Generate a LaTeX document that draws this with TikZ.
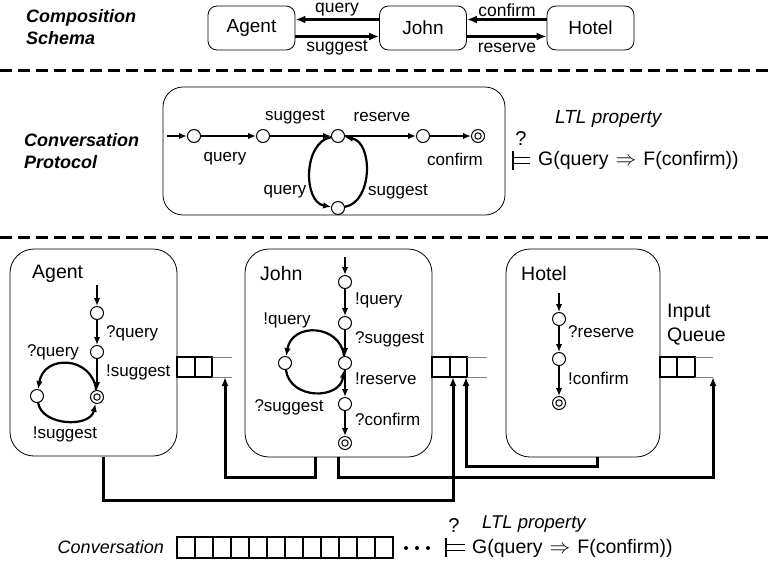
\documentclass[tikz,border=0pt]{standalone}
\usepackage{fontspec}
\setmainfont{Liberation Sans}
\usetikzlibrary{arrows.meta}
\begin{document}
\begin{tikzpicture}[x=1pt,y=-1pt,
  lbl/.style={font=\fontsize{17}{20}\selectfont, inner sep=0pt},
  tlbl/.style={font=\fontsize{17.5}{20}\selectfont, inner sep=0pt},
  ttl/.style={font=\fontsize{19.5}{22}\selectfont, inner sep=0pt},
  hdr/.style={font=\fontsize{18}{22}\selectfont\bfseries\itshape, inner sep=0pt, align=left, anchor=west},
  itl/.style={font=\fontsize{19}{22}\selectfont\itshape, inner sep=0pt},
  frm/.style={font=\fontsize{19.5}{22}\selectfont, inner sep=0pt},
  qmk/.style={font=\fontsize{20}{22}\selectfont, inner sep=0pt},
  bigbox/.style={draw, line width=0.8pt, rounded corners=24pt, inner sep=0pt},
  smallbox/.style={draw, line width=0.8pt, rounded corners=9pt, inner sep=0pt, minimum height=44pt, minimum width=87pt, font=\fontsize{19}{21}\selectfont},
  st/.style={circle, draw, line width=1pt, fill=white, minimum size=13pt, inner sep=0pt},
  fin/.style={st, path picture={\draw[line width=1pt] (path picture bounding box.center) circle (3.2pt);}},
  tr/.style={line width=2.2pt, -{Latex[length=8pt,width=6.5pt]}},
  tarr/.style={line width=3pt, -{Latex[length=10pt,width=8pt]}},
  conn/.style={line width=3pt, -{Latex[length=9pt,width=7pt]}},
  sep/.style={line width=3pt, dash pattern=on 12pt off 6pt},
  qcell/.style={draw, line width=1.8pt},
  qopen/.style={draw, line width=0.8pt, gray},
  models/.style={line width=1.7pt},
]
\useasboundingbox (0,0) rectangle (770,563);

% ---------- Composition schema ----------
\node[hdr] (cs) at (26,27) {Composition\\Schema};
\node[smallbox] (agT) at (251.5,28) {Agent};
\node[smallbox] (joT) at (423,28) {John};
\node[smallbox] (hoT) at (590.5,28) {Hotel};
\draw[tarr] ([yshift=8.5pt]joT.west) -- ([yshift=8.5pt]agT.east);
\draw[tarr] ([yshift=-8.5pt]agT.east) -- ([yshift=-8.5pt]joT.west);
\draw[tarr] ([yshift=8.5pt]hoT.west) -- ([yshift=8.5pt]joT.east);
\draw[tarr] ([yshift=-8.5pt]joT.east) -- ([yshift=-8.5pt]hoT.west);
\node[tlbl] (lq) at (337,10) {query};
\node[tlbl] (ls) at (337,48) {suggest};
\node[tlbl] (lc) at (507,10) {confirm};
\node[tlbl] (lr) at (507,48) {reserve};

\draw[sep] (0,70) -- (770,70);

% ---------- Conversation protocol ----------
\node[hdr] (cp) at (24,151) {Conversation\\Protocol};
\node[bigbox, rounded corners=20pt, minimum width=342pt, minimum height=128pt] (pbox) at (334,151) {};
\coordinate (p00) at (167,136);
\node[st] (p0) at (194,136) {};
\node[st] (p1) at (263,136) {};
\node[st] (p2) at (338,136) {};
\node[st] (p3) at (423,136) {};
\node[fin] (pf) at (478,136) {};
\node[st] (pb) at (338,208) {};
\draw[tr] (p00) -- (p0);
\draw[tr] (p0) -- (p1);
\draw[tr] (p1) -- (p2);
\draw[tr] (p2) -- (p3);
\draw[tr] (p3) -- (pf);
\draw[tr] (p2) .. controls (303,142) and (303,202) .. (pb);
\draw[tr] (pb) .. controls (373,202) and (373,142) .. (p2);
\node[lbl] (pl1) at (225,159) {query};
\node[lbl] (pl2) at (295,117) {suggest};
\node[lbl] (pl3) at (382,117) {reserve};
\node[lbl] (pl4) at (455,159) {confirm};
\node[lbl] (pl5) at (285,192) {query};
\node[lbl] (pl6) at (398,192) {suggest};

\node[itl, anchor=west] (ltl1) at (555,119) {LTL property};
\node[qmk] (qm1) at (521,139) {?};
\draw[models] (513,151) -- (513,170) (513,157.5) -- (530,157.5) (513,163.5) -- (530,163.5);
\node[frm, anchor=west] (g1) at (538,160) {G(query\hspace{7pt}$\Rightarrow$\hspace{7pt}F(confirm))};

\draw[sep] (0,237) -- (770,237);

% ---------- Peers ----------
\node[bigbox, minimum width=167pt, minimum height=207pt] (agB) at (93.5,352.5) {};
\node[bigbox, minimum width=187pt, minimum height=208pt] (joB) at (338.5,353) {};
\node[bigbox, minimum width=154pt, minimum height=208pt] (hoB) at (583,353) {};
\node[ttl, anchor=west] (agN) at (32,274) {Agent};
\node[ttl, anchor=west] (joN) at (260,274) {John};
\node[ttl, anchor=west] (hoN) at (521,274) {Hotel};
\node[ttl, anchor=west, align=left, font=\fontsize{19.5}{24}\selectfont] (iq) at (667,325) {Input\\Queue};

% Agent automaton
\coordinate (a00) at (97,285);
\node[st] (a0) at (97,313) {};
\node[st] (a1) at (97,352) {};
\node[fin] (af) at (97,397) {};
\node[st] (aL) at (37,396) {};
\draw[tr] (a00) -- (a0);
\draw[tr] (a0) -- (a1);
\draw[tr] (a1) -- (af);
\draw[tr] (af) .. controls (92,356) and (44,354) .. (aL);
\draw[tr] (aL) .. controls (42,426) and (90,428) .. (af);
\node[lbl, anchor=west] (al1) at (106,333) {?query};
\node[lbl, anchor=west] (al2) at (106,372) {!suggest};
\node[lbl] (al3) at (53,352) {?query};
\node[lbl] (al4) at (65,434) {!suggest};

% John automaton
\coordinate (j00) at (345,257);
\node[st] (j0) at (345,282) {};
\node[st] (j1) at (345,323) {};
\node[st] (j2) at (345,363) {};
\node[st] (j3) at (345,404) {};
\node[fin] (jf) at (345,443) {};
\node[st] (jL) at (285,363) {};
\draw[tr] (j00) -- (j0);
\draw[tr] (j0) -- (j1);
\draw[tr] (j1) -- (j2);
\draw[tr] (j2) -- (j3);
\draw[tr] (j3) -- (jf);
\draw[tr] (j2) .. controls (340,324) and (292,322) .. (jL);
\draw[tr] (jL) .. controls (290,400) and (340,400) .. (j2);
\node[lbl, anchor=west] (jl1) at (355,300) {!query};
\node[lbl, anchor=west] (jl2) at (355,339) {?suggest};
\node[lbl, anchor=west] (jl3) at (355,379) {!reserve};
\node[lbl, anchor=west] (jl4) at (355,419) {?confirm};
\node[lbl] (jl5) at (287,320) {!query};
\node[lbl] (jl6) at (289,407) {?suggest};

% Hotel automaton
\coordinate (h00) at (559,293);
\node[st] (h0) at (559,319) {};
\node[st] (h1) at (559,359) {};
\node[fin] (hf) at (559,403) {};
\draw[tr] (h00) -- (h0);
\draw[tr] (h0) -- (h1);
\draw[tr] (h1) -- (hf);
\node[lbl, anchor=west] (hl1) at (568,332) {?reserve};
\node[lbl, anchor=west] (hl2) at (568,378) {!confirm};

% Queues
\draw[qcell] (177,357) rectangle (195,377) (195,357) rectangle (212,377);
\draw[qopen] (212,357) -- (232,357) (212,377) -- (232,377);
\draw[qcell] (432,357) rectangle (450,377) (450,357) rectangle (467,377);
\draw[qopen] (467,357) -- (487,357) (467,377) -- (487,377);
\draw[qcell] (660,357) rectangle (677,377) (677,357) rectangle (695,377);
\draw[qopen] (695,357) -- (713,357) (695,377) -- (713,377);
\coordinate (qa) at (225,377);
\coordinate (qj1) at (453,377);
\coordinate (qj2) at (466,377);
\coordinate (qh) at (713,377);

% Connectors
\coordinate (ao) at (103,456.5);
\coordinate (jo1) at (315,457);
\coordinate (jo2) at (338,457);
\coordinate (ho) at (597,457);
\draw[conn] (ao) -- (103,500) -- (453,500) -- (qj1);
\draw[conn] (jo1) -- (315,477) -- (225,477) -- (qa);
\draw[conn] (jo2) -- (338,477) -- (713,477) -- (qh);
\draw[conn] (ho) -- (597,466) -- (466,466) -- (qj2);

% ---------- Conversation ----------
\node[itl, font=\fontsize{18}{21}\selectfont\itshape, anchor=east] (conv) at (164,547) {Conversation};
\foreach \i in {0,...,11}{
  \draw[line width=1.2pt] (177+18*\i,537) rectangle (195+18*\i,558);
}
\foreach \xx in {406,417,428}{\fill (\xx,548) circle (2pt);}
\node[qmk] (qm2) at (454,526) {?};
\draw[models] (446,538) -- (446,557) (446,544.5) -- (465,544.5) (446,550.5) -- (465,550.5);
\node[frm, anchor=west] (g2) at (472,548) {G(query\hspace{7pt}$\Rightarrow$\hspace{7pt}F(confirm))};
\node[itl, font=\fontsize{18.5}{21}\selectfont\itshape, anchor=west] (ltl2) at (482,524) {LTL property};
\end{tikzpicture}
\end{document}
